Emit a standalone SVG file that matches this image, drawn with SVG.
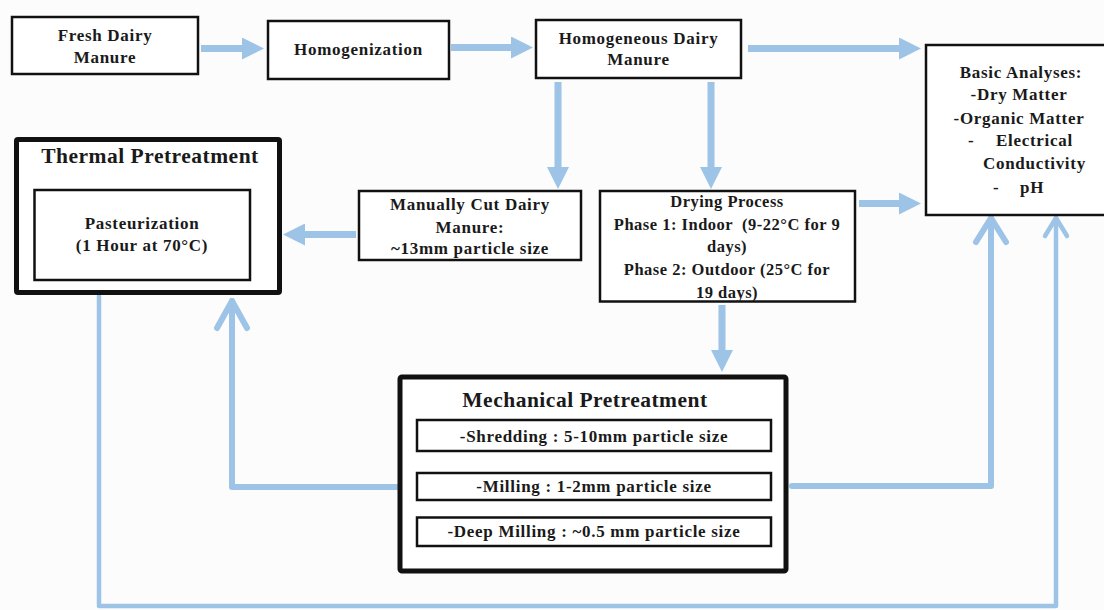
<svg xmlns="http://www.w3.org/2000/svg" width="1104" height="610" viewBox="0 0 1104 610">
<defs>
<style>
.bx{fill:#fff;stroke:#111;stroke-width:2.5}
.bxk{fill:#fff;stroke:#111;stroke-width:5}
.t{font-family:"Liberation Serif","Times New Roman",serif;font-weight:bold;fill:#1a1a1a;text-anchor:middle;font-size:17px;letter-spacing:0.7px}
.ts{font-family:"Liberation Serif","Times New Roman",serif;font-weight:bold;fill:#1a1a1a;text-anchor:start;font-size:17px;letter-spacing:0.7px}
.td{font-family:"Liberation Serif","Times New Roman",serif;font-weight:bold;fill:#1a1a1a;text-anchor:middle;font-size:16.5px;letter-spacing:0.5px}
.tt{font-family:"Liberation Serif","Times New Roman",serif;font-weight:bold;fill:#1a1a1a;text-anchor:middle;font-size:21.5px;letter-spacing:0.5px}
.sh{fill:none;stroke:#9DC3E6;stroke-width:7}
.fb{fill:none;stroke:#9DC3E6;stroke-width:6;stroke-linejoin:round;stroke-linecap:round}
.fbt{fill:none;stroke:#9DC3E6;stroke-width:4.5;stroke-linejoin:round;stroke-linecap:round}
</style>
<marker id="ah" markerUnits="userSpaceOnUse" markerWidth="22" markerHeight="22" refX="0" refY="11" orient="auto" viewBox="0 0 22 22">
<path d="M0,0 L22,11 L0,22 z" fill="#9DC3E6"/>
</marker>
</defs>
<rect x="0" y="0" width="1104" height="610" fill="#fcfcfc"/>

<g id="connectors">
<line class="sh" x1="201" y1="48.5" x2="242" y2="48.5" marker-end="url(#ah)"/>
<line class="sh" x1="451" y1="47.5" x2="511" y2="47.5" marker-end="url(#ah)"/>
<line class="sh" x1="748" y1="48.5" x2="899" y2="48.5" marker-end="url(#ah)"/>
<line class="sh" x1="558" y1="82" x2="558" y2="167" marker-end="url(#ah)"/>
<line class="sh" x1="711" y1="82" x2="711" y2="167" marker-end="url(#ah)"/>
<line class="sh" x1="859" y1="203.5" x2="899" y2="203.5" marker-end="url(#ah)"/>
<line class="sh" x1="356" y1="234.5" x2="305" y2="234.5" marker-end="url(#ah)"/>
<line class="sh" x1="722" y1="305" x2="722" y2="350" marker-end="url(#ah)"/>
<polyline class="fb" points="413,487 232,487 232,301"/>
<polyline class="fb" points="217,328 232,301 247,328"/>
<polyline class="fb" points="792,486 991,486 991,218"/>
<polyline class="fb" points="976,242 991,218 1006,242"/>
<polyline class="fbt" points="99,296 99,606 1056,606 1056,218"/>
<polyline class="fbt" points="1045,236 1056,218 1067,236"/>
</g>

<g id="fresh">
<rect class="bx" x="12" y="17" width="186" height="57"/>
<text class="t" x="105" y="41">Fresh Dairy</text>
<text class="t" x="105" y="63">Manure</text>
</g>

<g id="homogenization">
<rect class="bx" x="268" y="21" width="181" height="58"/>
<text class="t" x="358.5" y="54.5">Homogenization</text>
</g>

<g id="homogeneous">
<rect class="bx" x="536" y="20" width="205" height="58"/>
<text class="t" x="638.5" y="43.5">Homogeneous Dairy</text>
<text class="t" x="638.5" y="65">Manure</text>
</g>

<g id="basic">
<rect class="bx" x="926" y="45" width="190" height="170"/>
<text class="t" x="1021" y="78">Basic Analyses:</text>
<text class="t" x="1019" y="100">-Dry Matter</text>
<text class="t" x="1019" y="124">-Organic Matter</text>
<text class="ts" x="968" y="146">-</text>
<text class="ts" x="996" y="146">Electrical</text>
<text class="ts" x="983" y="169">Conductivity</text>
<text class="ts" x="993" y="193">-</text>
<text class="ts" x="1020" y="193">pH</text>
</g>

<g id="manually">
<rect class="bx" x="359" y="191" width="222" height="69"/>
<text class="t" x="470" y="210">Manually Cut Dairy</text>
<text class="t" x="470" y="233">Manure:</text>
<text class="t" x="470" y="254">~13mm particle size</text>
</g>

<g id="drying">
<rect class="bx" x="600" y="191" width="255" height="110.5"/>
<text class="td" x="727" y="207">Drying Process</text>
<text class="td" x="727" y="229.5" xml:space="preserve">Phase 1: Indoor  (9-22°C for 9</text>
<text class="td" x="727" y="252">days)</text>
<text class="td" x="727" y="275">Phase 2: Outdoor (25°C for</text>
<text class="td" x="727" y="297.5">19 days)</text>
</g>

<g id="thermal">
<rect class="bxk" x="16.5" y="139.5" width="263" height="153" rx="1.5"/>
<text class="tt" x="150" y="162.5">Thermal Pretreatment</text>
<rect class="bx" x="34.5" y="190" width="215.5" height="90"/>
<text class="t" x="142" y="229">Pasteurization</text>
<text class="t" x="142" y="251">(1 Hour at 70°C)</text>
</g>

<g id="mechanical">
<rect class="bxk" x="400" y="377" width="386" height="194" rx="2"/>
<text class="tt" x="585" y="406.5">Mechanical Pretreatment</text>
<rect class="bx" x="417" y="420" width="354" height="31"/>
<text class="t" x="594" y="441.5">-Shredding : 5-10mm particle size</text>
<rect class="bx" x="417" y="473" width="354" height="27"/>
<text class="t" x="594" y="491.5">-Milling : 1-2mm particle size</text>
<rect class="bx" x="417" y="517.5" width="354" height="28.5"/>
<text class="t" x="594" y="537">-Deep Milling : ~0.5 mm particle size</text>
</g>
</svg>
